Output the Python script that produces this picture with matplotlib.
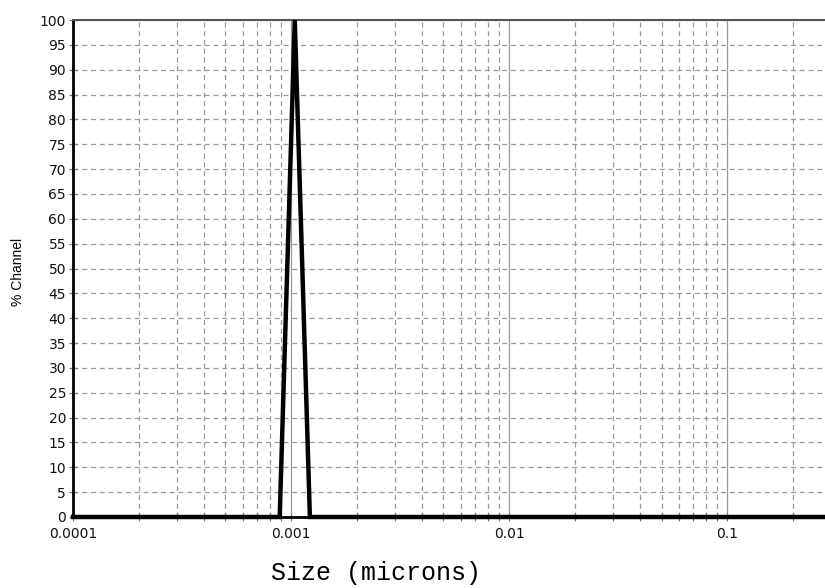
import matplotlib
matplotlib.use("Agg")
import matplotlib.pyplot as plt
from matplotlib.ticker import FixedLocator, FixedFormatter, LogLocator, NullFormatter

# Data
size_microns = [0.0001, 0.000887, 0.00104, 0.00122, 0.281]
pct_channel = [0, 0, 100, 0, 0]
y_ticks = list(range(0, 101, 5))
x_major = [0.0001, 0.001, 0.01, 0.1]
x_major_labels = ["0.0001", "0.001", "0.01", "0.1"]

fig = plt.figure(figsize=(8.25, 5.88), dpi=100)
ax = fig.add_axes([73/825, 1-517/588, 1-73/825, (517-20)/588])

ax.set_xscale("log")
ax.set_xlim(0.0001, 0.281)
ax.set_ylim(0, 100)

ax.xaxis.set_major_locator(FixedLocator(x_major))
ax.xaxis.set_major_formatter(FixedFormatter(x_major_labels))
ax.xaxis.set_minor_locator(LogLocator(base=10, subs=range(2, 10)))
ax.xaxis.set_minor_formatter(NullFormatter())
ax.set_yticks(y_ticks)
ax.set_yticklabels([str(v) for v in y_ticks])

ax.grid(True, which="major", axis="x", color="#999999", linestyle="-", linewidth=0.9)
ax.grid(True, which="minor", axis="x", color="#999999", linestyle=(0, (4, 3)), linewidth=0.9)
ax.grid(True, which="major", axis="y", color="#999999", linestyle=(0, (4, 3)), linewidth=0.9)
ax.set_axisbelow(True)

ax.plot(size_microns, pct_channel, color="black", linewidth=3.2, solid_joinstyle="miter",
        clip_on=False, zorder=3)

ax.spines["right"].set_visible(False)
ax.spines["top"].set_color("#555555")
ax.spines["top"].set_linewidth(1.5)
ax.spines["left"].set_color("black")
ax.spines["left"].set_linewidth(2.0)
ax.spines["bottom"].set_color("black")
ax.spines["bottom"].set_linewidth(2.0)

ax.tick_params(axis="both", which="major", direction="inout", length=6, width=0.9, color="#777777",
               labelsize=10, labelcolor="#111111")
ax.tick_params(axis="x", which="minor", direction="inout", length=6, width=0.9, color="#777777")
ax.tick_params(axis="y", pad=2)
ax.tick_params(axis="x", pad=4)

for lab in ax.get_xticklabels() + ax.get_yticklabels():
    lab.set_family("DejaVu Sans")

fig.text(18/825, 1-272/588, "% Channel", rotation=90, fontsize=10, family="Liberation Sans",
         ha="center", va="center")
fig.text(376/825, 1-573/588, "Size (microns)", fontsize=18, family="Liberation Mono",
         ha="center", va="center")

fig.savefig("out.png", dpi=100)
